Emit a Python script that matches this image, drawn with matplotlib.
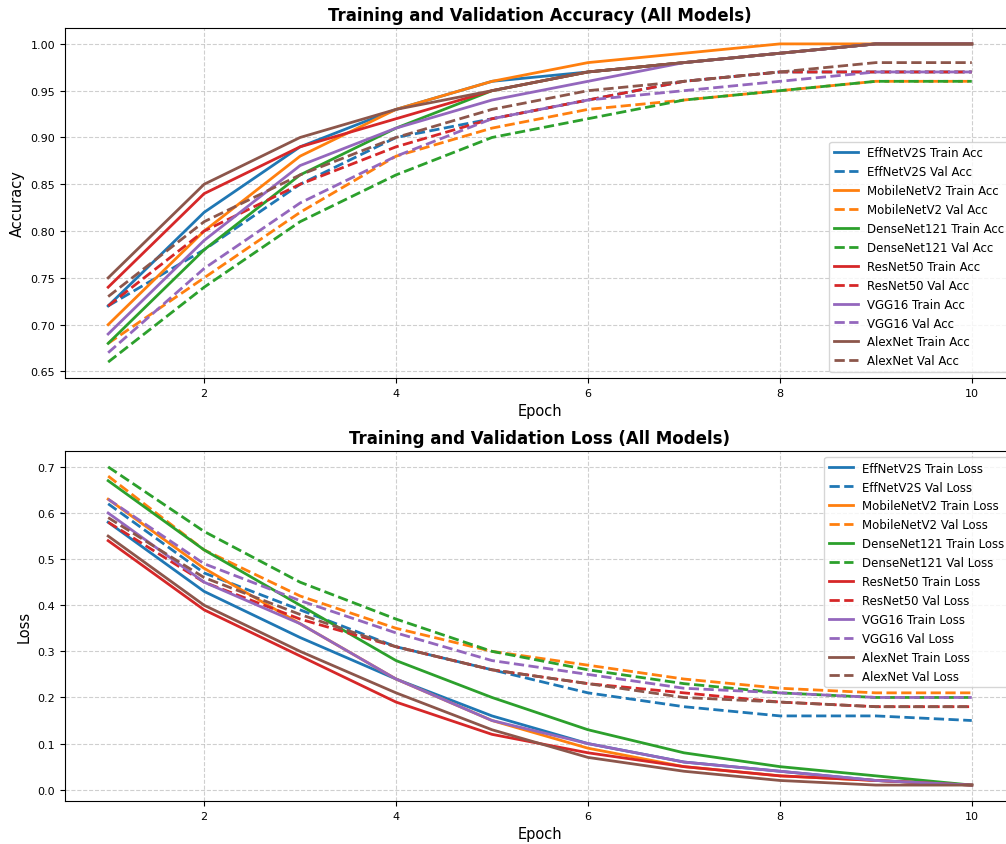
import numpy as np
import matplotlib
matplotlib.use('Agg')
import matplotlib.pyplot as plt

epochs = np.arange(1, 11)
models = ['EffNetV2S', 'MobileNetV2', 'DenseNet121', 'ResNet50', 'VGG16', 'AlexNet']
colors = ['#1f77b4', '#ff7f0e', '#2ca02c', '#d62728', '#9467bd', '#8c564b']

# accuracy per model
effnet_train_acc = [0.72, 0.82, 0.89, 0.93, 0.96, 0.97, 0.98, 0.99, 1.00, 1.00]
effnet_val_acc = [0.72, 0.78, 0.85, 0.90, 0.92, 0.94, 0.96, 0.97, 0.97, 0.97]
mobilenet_train_acc = [0.70, 0.80, 0.88, 0.93, 0.96, 0.98, 0.99, 1.00, 1.00, 1.00]
mobilenet_val_acc = [0.68, 0.75, 0.82, 0.88, 0.91, 0.93, 0.94, 0.95, 0.96, 0.96]
densenet_train_acc = [0.68, 0.78, 0.86, 0.91, 0.95, 0.97, 0.98, 0.99, 1.00, 1.00]
densenet_val_acc = [0.66, 0.74, 0.81, 0.86, 0.90, 0.92, 0.94, 0.95, 0.96, 0.96]
resnet_train_acc = [0.74, 0.84, 0.89, 0.92, 0.95, 0.97, 0.98, 0.99, 1.00, 1.00]
resnet_val_acc = [0.72, 0.80, 0.85, 0.89, 0.92, 0.94, 0.96, 0.97, 0.97, 0.97]
vgg_train_acc = [0.69, 0.79, 0.87, 0.91, 0.94, 0.96, 0.98, 0.99, 1.00, 1.00]
vgg_val_acc = [0.67, 0.76, 0.83, 0.88, 0.92, 0.94, 0.95, 0.96, 0.97, 0.97]
alexnet_train_acc = [0.75, 0.85, 0.90, 0.93, 0.95, 0.97, 0.98, 0.99, 1.00, 1.00]
alexnet_val_acc = [0.73, 0.81, 0.86, 0.90, 0.93, 0.95, 0.96, 0.97, 0.98, 0.98]

# loss per model
effnet_train_loss = [0.58, 0.43, 0.33, 0.24, 0.16, 0.10, 0.06, 0.04, 0.02, 0.01]
effnet_val_loss = [0.62, 0.47, 0.39, 0.31, 0.26, 0.21, 0.18, 0.16, 0.16, 0.15]
mobilenet_train_loss = [0.63, 0.48, 0.36, 0.24, 0.15, 0.09, 0.05, 0.03, 0.02, 0.01]
mobilenet_val_loss = [0.68, 0.52, 0.42, 0.35, 0.30, 0.27, 0.24, 0.22, 0.21, 0.21]
densenet_train_loss = [0.67, 0.52, 0.40, 0.28, 0.20, 0.13, 0.08, 0.05, 0.03, 0.01]
densenet_val_loss = [0.70, 0.56, 0.45, 0.37, 0.30, 0.26, 0.23, 0.21, 0.20, 0.20]
resnet_train_loss = [0.54, 0.39, 0.29, 0.19, 0.12, 0.08, 0.05, 0.03, 0.02, 0.01]
resnet_val_loss = [0.58, 0.45, 0.37, 0.31, 0.26, 0.23, 0.21, 0.19, 0.18, 0.18]
vgg_train_loss = [0.60, 0.45, 0.36, 0.24, 0.15, 0.10, 0.06, 0.04, 0.02, 0.01]
vgg_val_loss = [0.63, 0.49, 0.41, 0.34, 0.28, 0.25, 0.22, 0.21, 0.20, 0.20]
alexnet_train_loss = [0.55, 0.40, 0.30, 0.21, 0.13, 0.07, 0.04, 0.02, 0.01, 0.01]
alexnet_val_loss = [0.59, 0.46, 0.38, 0.31, 0.26, 0.23, 0.20, 0.19, 0.18, 0.18]

train_acc = [effnet_train_acc, mobilenet_train_acc, densenet_train_acc,
             resnet_train_acc, vgg_train_acc, alexnet_train_acc]
val_acc = [effnet_val_acc, mobilenet_val_acc, densenet_val_acc,
           resnet_val_acc, vgg_val_acc, alexnet_val_acc]
train_loss = [effnet_train_loss, mobilenet_train_loss, densenet_train_loss,
              resnet_train_loss, vgg_train_loss, alexnet_train_loss]
val_loss = [effnet_val_loss, mobilenet_val_loss, densenet_val_loss,
            resnet_val_loss, vgg_val_loss, alexnet_val_loss]

fig = plt.figure(figsize=(10.06, 8.45), dpi=100)
ax1 = fig.add_axes([0.0646, 0.5515, 0.9443, 0.4142])
ax2 = fig.add_axes([0.0646, 0.0509, 0.9443, 0.4142])

# accuracy
for i, name in enumerate(models):
    ax1.plot(epochs, train_acc[i], '-', color=colors[i], linewidth=2, label=f'{name} Train Acc')
    ax1.plot(epochs, val_acc[i], '--', color=colors[i], linewidth=2, label=f'{name} Val Acc')
ax1.set_title('Training and Validation Accuracy (All Models)', fontsize=12, fontweight='bold')
ax1.set_xlabel('Epoch', fontsize=10.5)
ax1.set_ylabel('Accuracy', fontsize=10.5)
ax1.tick_params(labelsize=8)
ax1.grid(True, linestyle='--', alpha=0.6)
ax1.legend(loc='lower right', fontsize=8.5)

# loss
for i, name in enumerate(models):
    ax2.plot(epochs, train_loss[i], '-', color=colors[i], linewidth=2, label=f'{name} Train Loss')
    ax2.plot(epochs, val_loss[i], '--', color=colors[i], linewidth=2, label=f'{name} Val Loss')
ax2.set_title('Training and Validation Loss (All Models)', fontsize=12, fontweight='bold')
ax2.set_xlabel('Epoch', fontsize=10.5)
ax2.set_ylabel('Loss', fontsize=10.5)
ax2.tick_params(labelsize=8)
ax2.grid(True, linestyle='--', alpha=0.6)
ax2.legend(loc='upper right', fontsize=8.5)

fig.savefig('out.png', dpi=100)
